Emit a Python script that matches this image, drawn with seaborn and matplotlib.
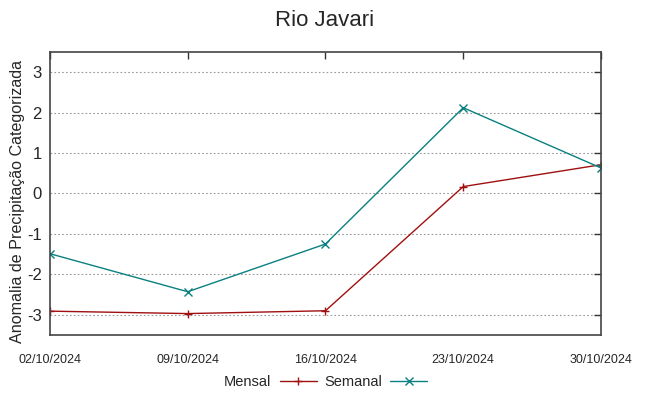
import pandas as pd
import matplotlib
matplotlib.use("Agg")
import matplotlib.pyplot as plt
import seaborn as sns

# Dados
datas = ["02/10/2024", "09/10/2024", "16/10/2024", "23/10/2024", "30/10/2024"]
mensal = [-2.91, -2.97, -2.90, 0.17, 0.71]
semanal = [-1.49, -2.43, -1.25, 2.12, 0.63]

df = pd.DataFrame({
    "pos": list(range(len(datas))) * 2,
    "valor": mensal + semanal,
    "serie": ["Mensal"] * len(datas) + ["Semanal"] * len(datas),
})

sns.set_style("white")
plt.rcParams["font.family"] = ["Liberation Sans", "DejaVu Sans"]

fig = plt.figure(figsize=(6.49, 3.96), dpi=100)
ax = fig.add_axes([0.077, 0.154, 0.849, 0.715])

cores = {"Mensal": "#a01010", "Semanal": "#0a8080"}
marcadores = {"Mensal": "+", "Semanal": "x"}
for nome, sub in df.groupby("serie"):
    sns.lineplot(data=sub, x="pos", y="valor", ax=ax, color=cores[nome],
                 marker=marcadores[nome], markersize=6, markeredgewidth=1,
                 markeredgecolor=cores[nome], linewidth=1, label=nome)

ax.set_xlim(0, len(datas) - 1)
ax.set_ylim(-3.5, 3.5)
ax.set_xticks(range(len(datas)))
ax.set_xticklabels(datas, fontsize=9)
ax.set_yticks(range(-3, 4))
ax.set_yticklabels([str(v) for v in range(-3, 4)], fontsize=12)
ax.tick_params(direction="in", length=5, top=True, right=True, width=1,
               color="#333333")
ax.tick_params(axis="x", pad=14)
ax.tick_params(axis="y", pad=6)
ax.grid(axis="y", linestyle=(0, (1.5, 2)), color="#999999", linewidth=0.8)
for s in ax.spines.values():
    s.set_color("#444444")
    s.set_linewidth(1.2)
ax.set_xlabel("")
ax.set_ylabel("Anomalia de Precipitação Categorizada", fontsize=11.6)
ax.yaxis.set_label_coords(-0.046, 0.473)
fig.suptitle("Rio Javari", fontsize=16, y=0.975)

ax.legend(loc="center", bbox_to_anchor=(0.5, -0.165), ncol=2,
          frameon=False, markerfirst=False, fontsize=10.5, handlelength=2.5,
          columnspacing=0.5, handletextpad=0.6)

fig.savefig("out.png", dpi=100)
